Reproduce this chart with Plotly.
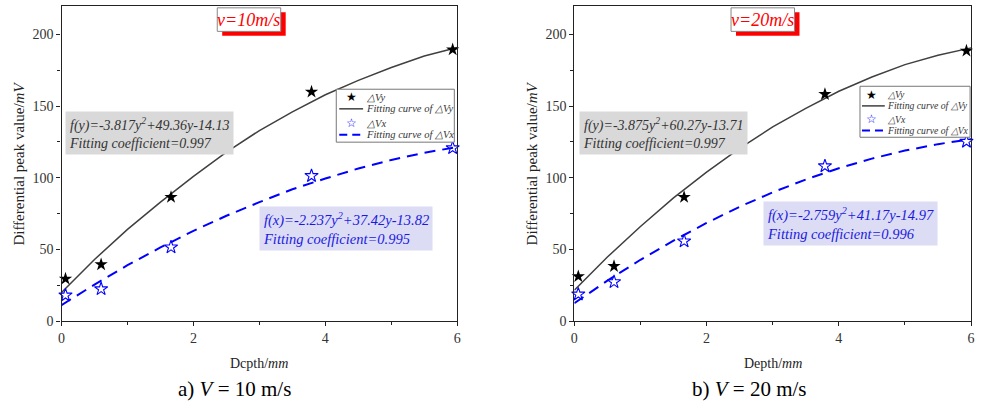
import plotly.graph_objects as go

W, H = 985, 409

# ---------------- data ----------------
depth_pts = [0.06, 0.6, 1.66, 3.79, 5.93]

vy_10 = [29.5, 39.5, 86.5, 160.0, 189.5]
vx_10 = [18.0, 22.4, 51.6, 101.4, 120.8]
vy_20 = [31.2, 38.3, 86.5, 158.3, 188.6]
vx_20 = [18.7, 27.3, 55.8, 108.2, 125.3]

fit_x = [0, 0.5, 1, 1.5, 2, 2.5, 3, 3.5, 4, 4.5, 5, 5.5, 6]
fit_vy_10 = [20, 43, 64, 83, 101, 118, 133, 146, 158, 168, 177, 185, 191]
fit_vx_10 = [11.2, 25.5, 39, 51.4, 63, 73.5, 83, 92, 99.5, 106.5, 112.5, 117.5, 121.5]
fit_vy_20 = [21.6, 44.7, 66, 86, 104, 120.5, 135.5, 148.5, 160.4, 170.4, 179, 185.6, 190.7]
fit_vx_20 = [12.5, 28.2, 42.8, 56.2, 68.5, 79.8, 89.9, 98.8, 106.7, 113.4, 119, 123.5, 127]

x_ticks = [0, 2, 4, 6]
y_ticks = [0, 50, 100, 150, 200]

titles = ["v=10m/s", "v=20m/s"]
captions = ["a) <i>V</i> = 10 m/s", "b) <i>V</i> = 20 m/s"]
x_titles = ["Dcpth/<i>mm</i>", "Depth/<i>mm</i>"]
y_title = "Differential peak value/<i>mV</i>"
eq_y = ["<i>f(y)=-3.817y<sup>2</sup>+49.36y-14.13<br>Fitting coefficient=0.997</i>",
        "<i>f(y)=-3.875y<sup>2</sup>+60.27y-13.71<br>Fitting coefficient=0.997</i>"]
eq_x = ["<i>f(x)=-2.237y<sup>2</sup>+37.42y-13.82<br>Fitting coefficient=0.995</i>",
        "<i>f(x)=-2.759y<sup>2</sup>+41.17y-14.97<br>Fitting coefficient=0.996</i>"]
legend_labels = ["\u25b3Vy", "Fitting curve of \u25b3Vy", "\u25b3Vx", "Fitting curve of \u25b3Vx"]

# ---------------- helpers ----------------
def px(x):
    return x / W

def py(y):
    return 1 - y / H

SERIF = "Liberation Serif, Times New Roman, serif"
BLUE = "#0000ff"
GRAY_LINE = "#404040"

panels = [
    dict(x0=58, x1=457, vy=vy_10, vx=vx_10, fvy=fit_vy_10, fvx=fit_vx_10,
         title_box=(215, 8, 279, 32), leg=(335, 91, 454, 145), leg_rows=[99, 111, 125.5, 137.5],
         leg_sym=350, leg_line=(338, 362), leg_text=363, leg_font=10.5,
         eqy=(61, 113), eqx=(257, 210), cap=232, xt=257),
    dict(x0=575, x1=975, vy=vy_20, vx=vx_20, fvy=fit_vy_20, fvx=fit_vx_20,
         title_box=(733, 8, 797, 32), leg=(863, 88, 974, 140), leg_rows=[96.5, 108, 121.5, 133],
         leg_sym=875, leg_line=(865, 888), leg_text=888, leg_font=9.7,
         eqy=(580, 113), eqx=(765, 205), cap=752, xt=775),
]

Y_TOP, Y_BOT = 6, 327.5

fig = go.Figure()
layout = dict(
    width=W, height=H, margin=dict(l=0, r=0, t=0, b=0),
    paper_bgcolor="white", plot_bgcolor="white", showlegend=False,
    font=dict(family=SERIF, color="#222"),
)
shapes = []
annotations = []


def note(x, y, text, xanchor="center", yanchor="middle", **kw):
    d = dict(xref="paper", yref="paper", x=px(x), y=py(y), text=text, showarrow=False,
             xanchor=xanchor, yanchor=yanchor)
    d.update(kw)
    annotations.append(d)


for i, p in enumerate(panels):
    xa = "x" if i == 0 else "x2"
    ya = "y" if i == 0 else "y2"
    xkey = "xaxis" if i == 0 else "xaxis2"
    ykey = "yaxis" if i == 0 else "yaxis2"

    fig.add_trace(go.Scatter(x=fit_x, y=p["fvy"], mode="lines", xaxis=xa, yaxis=ya,
                             line=dict(color=GRAY_LINE, width=1.5), name=legend_labels[1]))
    fig.add_trace(go.Scatter(x=fit_x, y=p["fvx"], mode="lines", xaxis=xa, yaxis=ya,
                             line=dict(color=BLUE, width=2, dash="11px,7px"), name=legend_labels[3]))
    fig.add_trace(go.Scatter(x=depth_pts, y=p["vy"], mode="markers", xaxis=xa, yaxis=ya,
                             cliponaxis=False, name=legend_labels[0],
                             marker=dict(symbol="star", size=10, color="black")))
    fig.add_trace(go.Scatter(x=depth_pts, y=p["vx"], mode="markers", xaxis=xa, yaxis=ya,
                             cliponaxis=False, name=legend_labels[2],
                             marker=dict(symbol="star-open", size=10, color=BLUE,
                                         line=dict(width=1.1, color=BLUE))))

    axis_common = dict(showline=True, linecolor="#222", linewidth=1.3, mirror=True,
                       ticks="outside", ticklen=4, tickwidth=1, tickcolor="#222",
                       showgrid=False, zeroline=False,
                       tickfont=dict(family=SERIF, size=14, color="#333"))
    layout[xkey] = dict(axis_common, domain=[px(p["x0"]), px(p["x1"])], range=[0, 6],
                        tickvals=x_ticks, anchor=ya,
                        minor=dict(ticks="outside", ticklen=3, dtick=1, tickcolor="#222"))
    layout[ykey] = dict(axis_common, domain=[py(Y_BOT), py(Y_TOP)], range=[0, 220],
                        tickvals=y_ticks, anchor=xa,
                        minor=dict(ticks="outside", ticklen=3, dtick=25, tickcolor="#222"))

    # title box with red shadow
    bx0, by0, bx1, by1 = p["title_box"]
    shapes.append(dict(type="rect", xref="paper", yref="paper", layer="above",
                       x0=px(bx0 + 5), x1=px(bx1 + 5), y0=py(by1 + 4.5), y1=py(by0 + 4.5),
                       fillcolor="#ff0000", line=dict(width=0)))
    shapes.append(dict(type="rect", xref="paper", yref="paper", layer="above",
                       x0=px(bx0), x1=px(bx1), y0=py(by1), y1=py(by0),
                       fillcolor="white", line=dict(color="#888", width=1)))
    note((bx0 + bx1) / 2, (by0 + by1) / 2, "<i>" + titles[i] + "</i>",
         font=dict(family=SERIF, size=18, color="#ff0000"))

    # legend box
    lx0, ly0, lx1, ly1 = p["leg"]
    shapes.append(dict(type="rect", xref="paper", yref="paper", layer="above",
                       x0=px(lx0), x1=px(lx1), y0=py(ly1), y1=py(ly0),
                       fillcolor="white", line=dict(color="#777", width=1)))
    rows = p["leg_rows"]
    l0, l1 = p["leg_line"]
    shapes.append(dict(type="line", xref="paper", yref="paper", layer="above",
                       x0=px(l0), x1=px(l1), y0=py(rows[1]), y1=py(rows[1]),
                       line=dict(color=GRAY_LINE, width=1.5)))
    shapes.append(dict(type="line", xref="paper", yref="paper", layer="above",
                       x0=px(l0), x1=px(l1), y0=py(rows[3]), y1=py(rows[3]),
                       line=dict(color=BLUE, width=2, dash="8px,5px")))
    note(p["leg_sym"], rows[0], "\u2605", font=dict(family="DejaVu Sans", size=12, color="black"))
    note(p["leg_sym"], rows[2], "\u2606", font=dict(family="DejaVu Sans", size=12, color=BLUE))
    for r, lab in zip(rows, legend_labels):
        note(p["leg_text"], r, "<i>" + lab + "</i>", xanchor="left",
             font=dict(family=SERIF, size=p["leg_font"], color="#333"))

    # equation boxes
    ex, ey = p["eqy"]
    note(ex, ey, eq_y[i], xanchor="left", yanchor="top", align="left",
         bgcolor="#d9d9d9", borderpad=3, font=dict(family=SERIF, size=14, color="#333"))
    ex, ey = p["eqx"]
    note(ex, ey, eq_x[i], xanchor="left", yanchor="top", align="left",
         bgcolor="#dcdcf4", borderpad=3, font=dict(family=SERIF, size=14.5, color="#1a1ae0"))

    # axis titles
    note(p["xt"], 371, x_titles[i], font=dict(family=SERIF, size=14, color="#222"))
    note(p["x0"] - 43, 167, y_title, textangle=-90, font=dict(family=SERIF, size=15, color="#222"))
    # caption
    note(p["cap"], 397, captions[i], font=dict(family=SERIF, size=21, color="black"))

layout["shapes"] = shapes
layout["annotations"] = annotations
fig.update_layout(**layout)
fig.write_html("out.html")
